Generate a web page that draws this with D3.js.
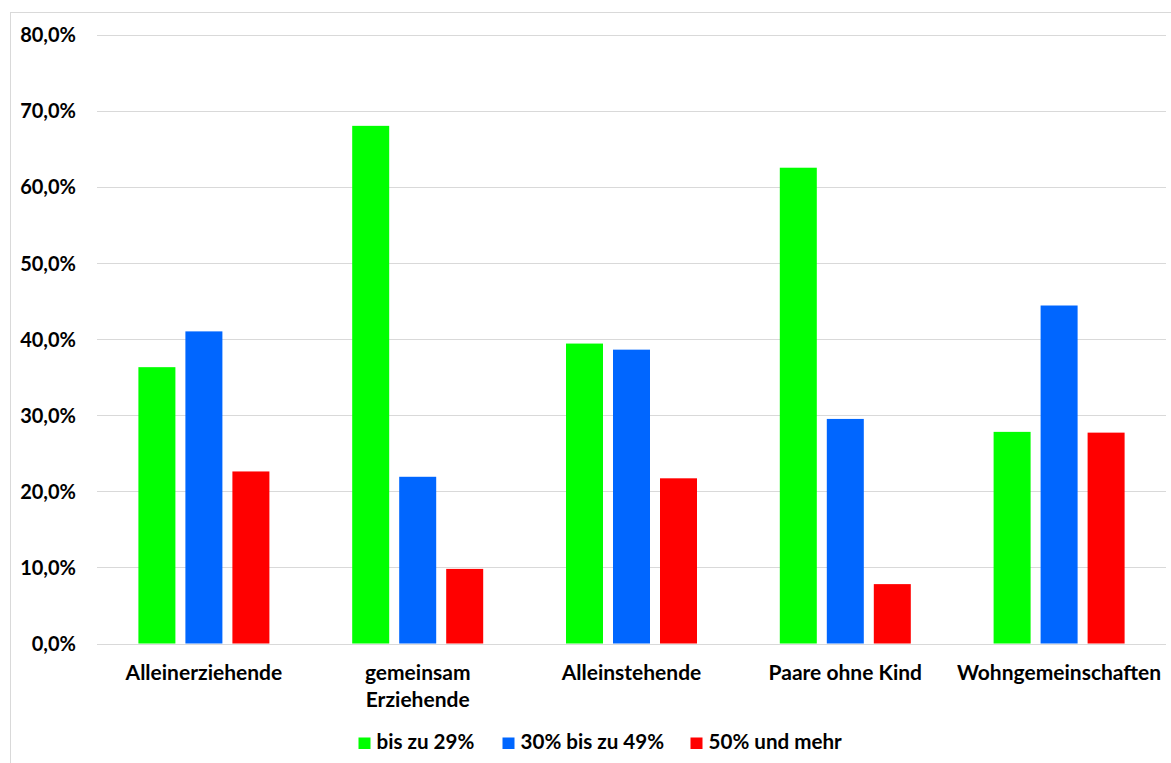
<!DOCTYPE html>
<html>
<head>
<meta charset="utf-8">
<script src="https://cdn.jsdelivr.net/npm/d3@7"></script>
<style>
  html, body { margin: 0; padding: 0; background: #fff; }
  svg { display: block; }
  text { font-family: Lato, "Open Sans", sans-serif; font-weight: bold; fill: #000; }
</style>
</head>
<body>
<svg id="chart" width="1171" height="763"></svg>
<script>
const categories = [["Alleinerziehende"], ["gemeinsam", "Erziehende"], ["Alleinstehende"], ["Paare ohne Kind"], ["Wohngemeinschaften"]];
const seriesNames = ["bis zu 29%", "30% bis zu 49%", "50% und mehr"];
const seriesColors = ["#00ff00", "#0066ff", "#ff0000"];
const bisZu29 = [36.3, 68.0, 39.4, 62.5, 27.8];
const von30bis49 = [41.0, 21.9, 38.6, 29.5, 44.4];
const ab50 = [22.6, 9.8, 21.7, 7.8, 27.7];
const yTicks = [0, 10, 20, 30, 40, 50, 60, 70, 80];

(function () {
const series = [bisZu29, von30bis49, ab50];
const svg = d3.select("#chart");

// chart border
svg.append("rect").attr("x", 10.5).attr("y", 12.5).attr("width", 1180).attr("height", 800)
  .attr("fill", "none").attr("stroke", "#d9d9d9").attr("stroke-width", 1);

const pLeft = 97, pRight = 1166, pTop = 34.5, pBottom = 643.5;
const catKeys = categories.map((c, i) => i);
const x0 = d3.scaleBand().domain(catKeys).range([pLeft, pRight]).paddingInner(0).paddingOuter(0);
const y = d3.scaleLinear().domain([0, 80]).range([pBottom, pTop]);

// gridlines
svg.append("g").selectAll("line").data(yTicks).join("line")
  .attr("x1", pLeft).attr("x2", pRight)
  .attr("y1", d => Math.round(y(d)) + 0.5).attr("y2", d => Math.round(y(d)) + 0.5)
  .attr("stroke", "#d9d9d9").attr("stroke-width", 1.2);

// y axis labels
const fmt = d => d.toFixed(1).replace(".", ",") + "%";
const yAxis = d3.axisLeft(y).tickValues(yTicks).tickFormat(fmt).tickSize(0).tickPadding(0);
const yg = svg.append("g").attr("transform", "translate(76,0)").call(yAxis);
yg.select(".domain").remove();
yg.selectAll("text").style("font-size", "20px").style("font-family", "Lato, sans-serif").style("font-weight", "bold").attr("fill", "#000").attr("dy", "0.36em");

// bars
const barW = 37, gap = 10;
const groupW = 3 * barW + 2 * gap;
const x1 = d3.scaleBand().domain([0, 1, 2]).range([0, groupW]).paddingInner(gap / (barW + gap)).paddingOuter(0);
const barData = [];
catKeys.forEach(ci => series.forEach((s, si) => barData.push({ ci, si, v: s[ci] })));
svg.append("g").selectAll("rect").data(barData).join("rect")
  .attr("x", d => x0(d.ci) + (x0.bandwidth() - groupW) / 2 + x1(d.si))
  .attr("width", x1.bandwidth())
  .attr("y", d => y(d.v))
  .attr("height", d => y(0) - y(d.v))
  .attr("fill", d => seriesColors[d.si]);

// category labels
const xAxis = d3.axisBottom(x0).tickSize(0).tickFormat(() => "");
const xg = svg.append("g").attr("transform", `translate(0,${pBottom})`).call(xAxis);
xg.select(".domain").remove();
const labG = svg.append("g");
catKeys.forEach(ci => {
  const cx = x0(ci) + x0.bandwidth() / 2;
  const t = labG.append("text")
    .attr("x", cx)
    .attr("y", 680)
    .attr("text-anchor", "middle")
    .style("font-size", "21px");
  categories[ci].forEach((line, li) => {
    t.append("tspan").attr("x", cx).attr("dy", li === 0 ? 0 : 27).text(line);
  });
});

// legend
const legendX = [358.5, 502.5, 690.5];
const lg = svg.append("g");
seriesNames.forEach((name, i) => {
  lg.append("rect").attr("x", legendX[i]).attr("y", 737.5).attr("width", 12).attr("height", 11.5).attr("fill", seriesColors[i]);
  lg.append("text").attr("x", legendX[i] + 18).attr("y", 749).style("font-size", "20.6px").text(name);
});
})();
</script>
</body>
</html>
